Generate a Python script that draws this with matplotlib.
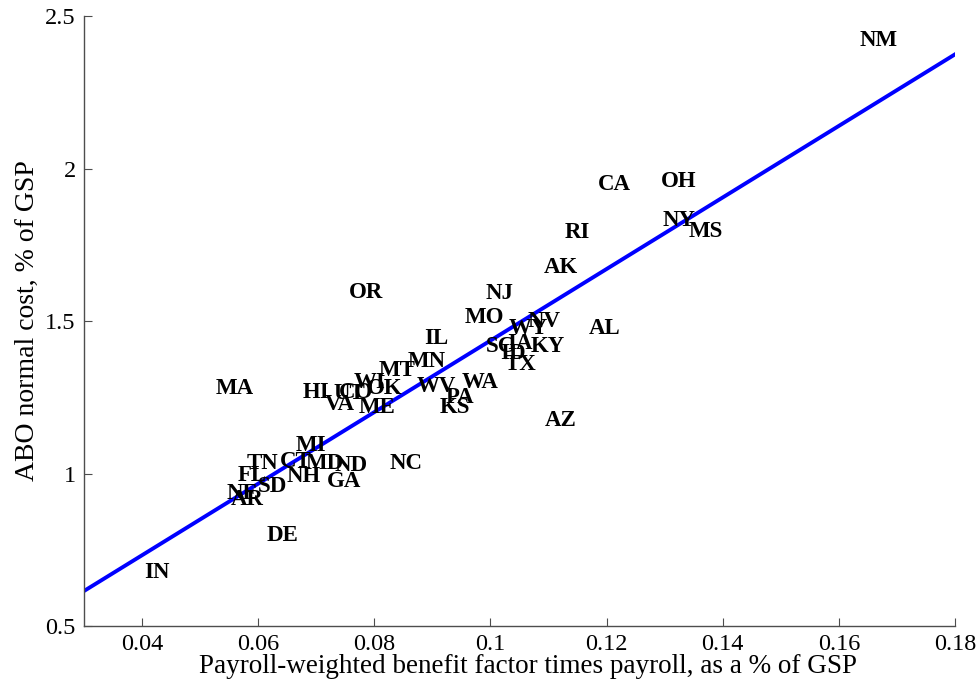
import matplotlib
matplotlib.use('Agg')
import matplotlib.pyplot as plt
import numpy as np

# state labels with (benefit factor x payroll, ABO normal cost), both % of GSP
states = ['NM', 'CA', 'OH', 'NY', 'MS', 'RI', 'AK', 'OR', 'NJ', 'MO',
          'NV', 'WY', 'AL', 'IL', 'SC', 'IA', 'KY', 'ID', 'TX', 'MN',
          'MT', 'WA', 'WV', 'PA', 'KS', 'AZ', 'MA', 'HI', 'VA', 'UT',
          'CO', 'WI', 'OK', 'ME', 'MI', 'TN', 'CT', 'MD', 'ND', 'NC',
          'FL', 'NH', 'SD', 'NE', 'AR', 'GA', 'DE', 'IN']
benefit = [0.1668, 0.1214, 0.1324, 0.1324, 0.1371, 0.1149, 0.1121, 0.0786, 0.1016, 0.0990,
           0.1092, 0.1066, 0.1197, 0.0906, 0.1018, 0.1051, 0.1099, 0.1039, 0.1052, 0.0891,
           0.0839, 0.0982, 0.0906, 0.0947, 0.0939, 0.1121, 0.0559, 0.0700, 0.0740, 0.0757,
           0.0768, 0.0791, 0.0817, 0.0805, 0.0691, 0.0607, 0.0664, 0.0715, 0.0760, 0.0854,
           0.0590, 0.0679, 0.0624, 0.0572, 0.0581, 0.0748, 0.0642, 0.0426]
abo_cost = [2.421, 1.949, 1.959, 1.828, 1.792, 1.789, 1.674, 1.595, 1.589, 1.513,
            1.497, 1.477, 1.477, 1.444, 1.418, 1.425, 1.418, 1.395, 1.356, 1.366,
            1.339, 1.297, 1.284, 1.248, 1.215, 1.175, 1.280, 1.267, 1.225, 1.264,
            1.267, 1.297, 1.280, 1.215, 1.093, 1.034, 1.038, 1.034, 1.028, 1.034,
            0.992, 0.989, 0.956, 0.936, 0.916, 0.975, 0.798, 0.677]

# fitted line
fit_slope = 11.73
fit_intercept = 0.263

x_ticks = [0.04, 0.06, 0.08, 0.1, 0.12, 0.14, 0.16, 0.18]
y_ticks = [0.5, 1, 1.5, 2, 2.5]

serif = ['Liberation Serif', 'DejaVu Serif']

fig = plt.figure(figsize=(9.79, 6.91), dpi=100)
ax = fig.add_axes([0.0858, 0.094, 0.8897, 0.8828])

for s, x, y in zip(states, benefit, abo_cost):
    ax.text(x, y, s, ha='center', va='center', fontsize=16.5,
            fontweight='bold', family=serif)

xs = np.array([0.03, 0.18])
ax.plot(xs, fit_slope * xs + fit_intercept, color='#0000ff', lw=2.8)

ax.set_xlim(0.03, 0.18)
ax.set_ylim(0.5, 2.5)
ax.set_xticks(x_ticks)
ax.set_xticklabels([f'{t:g}' for t in x_ticks])
ax.set_yticks(y_ticks)
ax.set_yticklabels([f'{t:g}' for t in y_ticks])

for side in ['top', 'right']:
    ax.spines[side].set_visible(False)
for side in ['left', 'bottom']:
    ax.spines[side].set_color('0.3')
    ax.spines[side].set_linewidth(1.0)
ax.tick_params(direction='in', length=6, width=0.8, color='0.3',
               labelsize=17.5, pad=6)
for lab in ax.get_xticklabels() + ax.get_yticklabels():
    lab.set_family(serif)

ax.set_xlabel('Payroll-weighted benefit factor times payroll, as a % of GSP',
              fontsize=19.5, family=serif)
ax.xaxis.set_label_coords(0.51, -0.046)
ax.set_ylabel('ABO normal cost, % of GSP', fontsize=20, family=serif, labelpad=4)

plt.savefig('out.png', dpi=100)
plt.close()
